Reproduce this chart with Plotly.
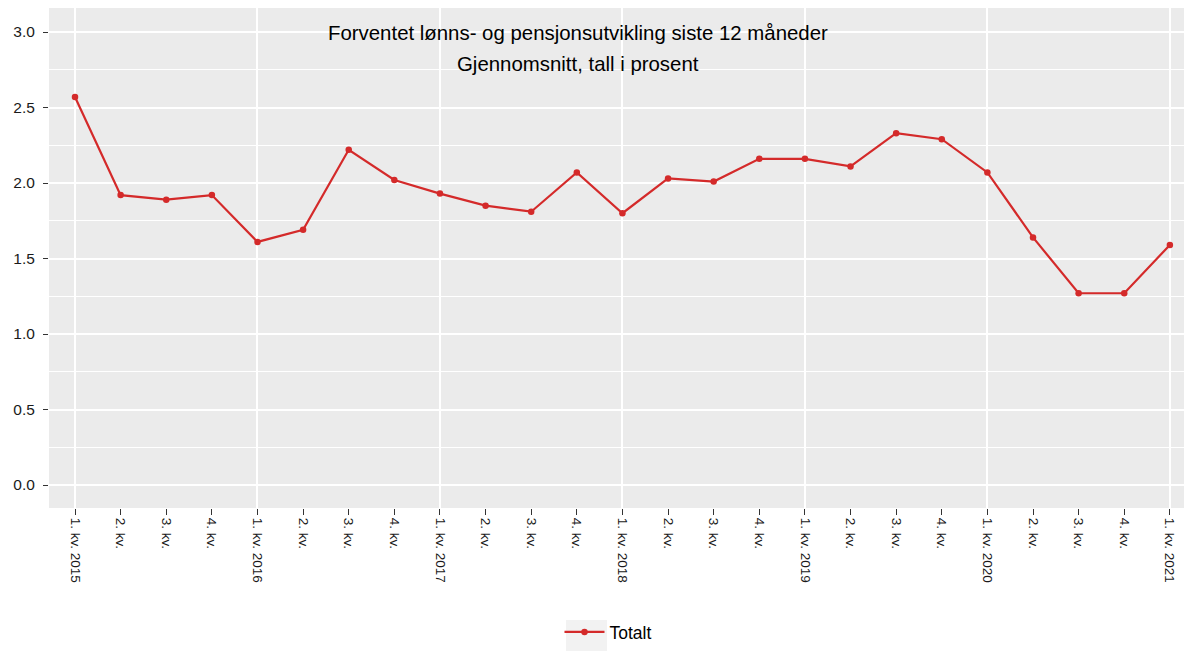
import plotly.graph_objects as go

# kvartaler 1. kv. 2015 - 1. kv. 2021
quarters = ['1. kv. 2015', '2. kv.', '3. kv.', '4. kv.',
            '1. kv. 2016', '2. kv.', '3. kv.', '4. kv.',
            '1. kv. 2017', '2. kv.', '3. kv.', '4. kv.',
            '1. kv. 2018', '2. kv.', '3. kv.', '4. kv.',
            '1. kv. 2019', '2. kv.', '3. kv.', '4. kv.',
            '1. kv. 2020', '2. kv.', '3. kv.', '4. kv.',
            '1. kv. 2021']
totalt = [2.57, 1.92, 1.89, 1.92,
          1.61, 1.69, 2.22, 2.02,
          1.93, 1.85, 1.81, 2.07,
          1.80, 2.03, 2.01, 2.16,
          2.16, 2.11, 2.33, 2.29,
          2.07, 1.64, 1.27, 1.27,
          1.59]
series_name = 'Totalt'
title_lines = ['Forventet lønns- og pensjonsutvikling siste 12 måneder',
               'Gjennomsnitt, tall i prosent']
y_ticks = [0.0, 0.5, 1.0, 1.5, 2.0, 2.5, 3.0]

FONT = 'Liberation Sans, Arial, sans-serif'
RED = '#D42A2A'
PANEL = '#EBEBEB'

idx = list(range(len(quarters)))
year_starts = [i for i, q in enumerate(quarters) if q.startswith('1. kv.')]
x_range = [-0.57, len(quarters) - 0.69]

fig = go.Figure()
fig.add_trace(go.Scatter(
    x=idx, y=totalt, name=series_name, mode='lines+markers',
    line=dict(color=RED, width=2.2),
    marker=dict(color=RED, size=6.5),
))

LEG_X = 0.4925

fig.update_layout(
    width=1184, height=651,
    margin=dict(l=49, r=0, t=8, b=143),
    paper_bgcolor='white',
    plot_bgcolor=PANEL,
    font=dict(family=FONT, color='#1a1a1a'),
    showlegend=True,
    legend=dict(orientation='h', x=LEG_X, xanchor='center', y=-0.284, yanchor='bottom',
                font=dict(size=17.5, color='black'), bgcolor='rgba(0,0,0,0)',
                itemwidth=40),
    xaxis=dict(
        range=x_range, tickmode='array', tickvals=idx, ticktext=quarters,
        tickangle=90, tickfont=dict(size=13.5, color='#1a1a1a'),
        showgrid=False, zeroline=False, showline=False, automargin=False,
        ticks='outside', ticklen=6, tickwidth=1.3, tickcolor='#333333',
    ),
    xaxis2=dict(
        range=x_range, overlaying='x', tickmode='array', tickvals=year_starts,
        showticklabels=False, ticks='', showgrid=True, gridcolor='white',
        gridwidth=2, zeroline=False, automargin=False,
    ),
    yaxis=dict(
        range=[-0.152, 3.159], tickmode='array', tickvals=y_ticks, tickformat='.1f',
        tickfont=dict(size=15.5, color='#1a1a1a'), ticklabelstandoff=5,
        showgrid=True, gridcolor='white', gridwidth=2, zeroline=False, showline=False,
        ticks='outside', ticklen=5, tickwidth=1.3, tickcolor='#333333', automargin=False,
        minor=dict(dtick=0.25, tick0=0.25, showgrid=True, gridcolor='white', gridwidth=1),
    ),
)

# dummy trace to activate the overlay x-axis grid
fig.add_trace(go.Scatter(x=[x_range[0]], y=[None], xaxis='x2', showlegend=False,
                         hoverinfo='skip'))

for txt, ypos in zip(title_lines, [0.95, 0.888]):
    fig.add_annotation(text=txt, xref='paper', yref='paper', x=0.466, y=ypos,
                       xanchor='center', yanchor='middle', showarrow=False,
                       font=dict(size=20.4, color='black', family=FONT))

# grey legend key background (ggplot style)
fig.add_shape(type='rect', xref='paper', yref='paper', layer='below',
              x0=(566 - 49) / 1135, x1=(607 - 49) / 1135,
              y0=-(651 - 508) / 500, y1=-(620 - 508) / 500,
              fillcolor='#F2F2F2', line=dict(width=0))

fig.write_html('out.html', config={'displayModeBar': False},
               post_script="document.body.style.margin='0';")
